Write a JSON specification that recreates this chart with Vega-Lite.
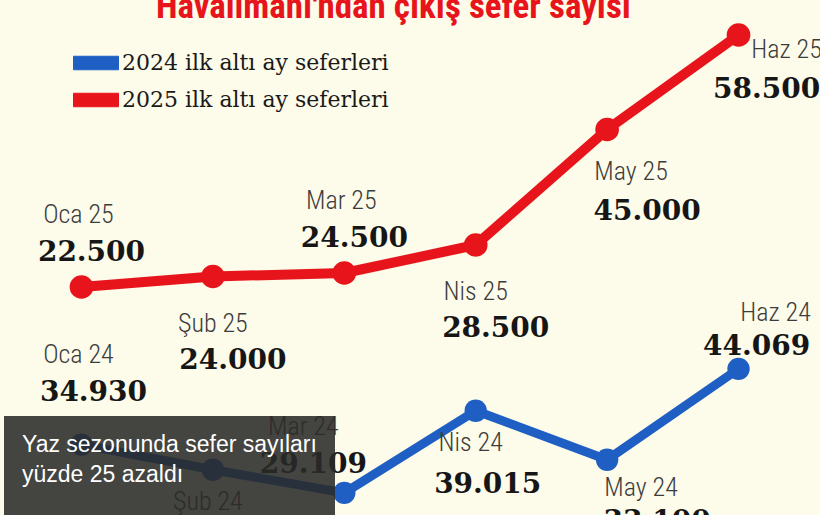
{
  "$schema": "https://vega.github.io/schema/vega-lite/v6.json",
  "width": 820,
  "height": 515,
  "autosize": {"type": "none"},
  "padding": 0,
  "background": "#fdfbe9",
  "config": {
    "view": {"stroke": null},
    "locale": {"number": {"decimal": ",", "thousands": ".", "grouping": [3], "currency": ["", " TL"]}}
  },
  "data": {
    "values": [
      {"seri": "2025 ilk altı ay seferleri", "ay": "Oca", "etiket": "Oca 25", "sefer": 22500},
      {"seri": "2025 ilk altı ay seferleri", "ay": "Şub", "etiket": "Şub 25", "sefer": 24000},
      {"seri": "2025 ilk altı ay seferleri", "ay": "Mar", "etiket": "Mar 25", "sefer": 24500},
      {"seri": "2025 ilk altı ay seferleri", "ay": "Nis", "etiket": "Nis 25", "sefer": 28500},
      {"seri": "2025 ilk altı ay seferleri", "ay": "May", "etiket": "May 25", "sefer": 45000},
      {"seri": "2025 ilk altı ay seferleri", "ay": "Haz", "etiket": "Haz 25", "sefer": 58500},
      {"seri": "2024 ilk altı ay seferleri", "ay": "Oca", "etiket": "Oca 24", "sefer": 34930},
      {"seri": "2024 ilk altı ay seferleri", "ay": "Şub", "etiket": "Şub 24", "sefer": 31900},
      {"seri": "2024 ilk altı ay seferleri", "ay": "Mar", "etiket": "Mar 24", "sefer": 29109},
      {"seri": "2024 ilk altı ay seferleri", "ay": "Nis", "etiket": "Nis 24", "sefer": 39015},
      {"seri": "2024 ilk altı ay seferleri", "ay": "May", "etiket": "May 24", "sefer": 33100},
      {"seri": "2024 ilk altı ay seferleri", "ay": "Haz", "etiket": "Haz 24", "sefer": 44069}
    ]
  },
  "encoding": {
    "x": {"field": "ay", "type": "ordinal", "sort": ["Oca", "Şub", "Mar", "Nis", "May", "Haz"], "scale": {"type": "point", "padding": 0.62}, "axis": null}
  },
  "layer": [
    {
      "transform": [{"filter": "datum.seri === '2025 ilk altı ay seferleri'"}],
      "encoding": {
        "y": {"field": "sefer", "type": "quantitative", "scale": {"domain": [-10071, 63500], "nice": false, "zero": false}, "axis": null}
      },
      "layer": [
        {
          "mark": {"type": "line", "strokeWidth": 10, "strokeCap": "round", "strokeJoin": "round"},
          "encoding": {
            "color": {
              "field": "seri", "type": "nominal",
              "scale": {"domain": ["2024 ilk altı ay seferleri", "2025 ilk altı ay seferleri"], "range": ["#1f5fc4", "#e8141c"]},
              "legend": {
                "orient": "none", "legendX": 73, "legendY": 40, "title": null, "direction": "vertical",
                "symbolType": "M-1,-0.3H1V0.3H-1Z", "symbolSize": 2025, "symbolStrokeWidth": 1, "symbolOpacity": 1,
                "labelFont": "DejaVu Serif", "labelFontSize": 22, "labelColor": "#1a1a1a", "labelOffset": 3,
                "rowPadding": 3, "padding": 0, "labelLimit": 400
              }
            }
          }
        },
        {
          "mark": {"type": "point", "filled": true, "size": 560, "opacity": 1},
          "encoding": {
            "color": {
              "field": "seri", "type": "nominal",
              "scale": {"domain": ["2024 ilk altı ay seferleri", "2025 ilk altı ay seferleri"], "range": ["#1f5fc4", "#e8141c"]},
              "legend": {
                "orient": "none", "legendX": 73, "legendY": 40, "title": null, "direction": "vertical",
                "symbolType": "M-1,-0.3H1V0.3H-1Z", "symbolSize": 2025, "symbolStrokeWidth": 1, "symbolOpacity": 1,
                "labelFont": "DejaVu Serif", "labelFontSize": 22, "labelColor": "#1a1a1a", "labelOffset": 3,
                "rowPadding": 3, "padding": 0, "labelLimit": 400
              }
            },
            "opacity": {
              "datum": "baslik", "type": "ordinal",
              "scale": {"domain": ["baslik"], "range": [1]},
              "legend": {
                "orient": "none", "legendX": 156, "legendY": -10,
                "title": "Havalimanı'ndan çıkış sefer sayısı",
                "titleFont": "Roboto Condensed, Liberation Sans Narrow, DejaVu Sans Condensed, sans-serif",
                "titleFontSize": 35, "titleFontWeight": "bold", "titleColor": "#e8141c", "titleLimit": 800,
                "padding": 0, "labelExpr": "''", "symbolOpacity": 0, "symbolStrokeWidth": 0, "symbolSize": 0,
                "symbolFillColor": "transparent", "symbolStrokeColor": "transparent"
              }
            }
          }
        },
        {
          "transform": [{"filter": {"field": "etiket", "oneOf": ["Oca 25", "Mar 25"]}}],
          "layer": [
            {"mark": {"type": "text", "dx": -3, "dy": -72, "font": "Roboto Condensed, Liberation Sans Narrow, DejaVu Sans Condensed, sans-serif", "fontSize": 26, "fontWeight": 300, "color": "#3c3c3c"}, "encoding": {"text": {"field": "etiket"}}},
            {"mark": {"type": "text", "dx": 10, "dy": -34, "font": "DejaVu Serif", "fontSize": 28, "fontWeight": "bold", "color": "#161616"}, "encoding": {"text": {"field": "sefer", "type": "quantitative", "format": ",.0f"}}}
          ]
        },
        {
          "transform": [{"filter": {"field": "etiket", "oneOf": ["Şub 25", "Nis 25"]}}],
          "layer": [
            {"mark": {"type": "text", "dx": 0, "dy": 47, "font": "Roboto Condensed, Liberation Sans Narrow, DejaVu Sans Condensed, sans-serif", "fontSize": 26, "fontWeight": 300, "color": "#3c3c3c"}, "encoding": {"text": {"field": "etiket"}}},
            {"mark": {"type": "text", "dx": 20, "dy": 84, "font": "DejaVu Serif", "fontSize": 28, "fontWeight": "bold", "color": "#161616"}, "encoding": {"text": {"field": "sefer", "type": "quantitative", "format": ",.0f"}}}
          ]
        },
        {
          "transform": [{"filter": {"field": "etiket", "oneOf": ["May 25"]}}],
          "layer": [
            {"mark": {"type": "text", "dx": 24, "dy": 42, "font": "Roboto Condensed, Liberation Sans Narrow, DejaVu Sans Condensed, sans-serif", "fontSize": 26, "fontWeight": 300, "color": "#3c3c3c"}, "encoding": {"text": {"field": "etiket"}}},
            {"mark": {"type": "text", "dx": 40, "dy": 82, "font": "DejaVu Serif", "fontSize": 28, "fontWeight": "bold", "color": "#161616"}, "encoding": {"text": {"field": "sefer", "type": "quantitative", "format": ",.0f"}}}
          ]
        },
        {
          "transform": [{"filter": {"field": "etiket", "oneOf": ["Haz 25"]}}],
          "layer": [
            {"mark": {"type": "text", "dx": 48, "dy": 15, "font": "Roboto Condensed, Liberation Sans Narrow, DejaVu Sans Condensed, sans-serif", "fontSize": 26, "fontWeight": 300, "color": "#3c3c3c"}, "encoding": {"text": {"field": "etiket"}}},
            {"mark": {"type": "text", "dx": 28, "dy": 55, "font": "DejaVu Serif", "fontSize": 28, "fontWeight": "bold", "color": "#161616"}, "encoding": {"text": {"field": "sefer", "type": "quantitative", "format": ",.0f"}}}
          ]
        }
      ]
    },
    {
      "transform": [{"filter": "datum.seri === '2024 ilk altı ay seferleri'"}],
      "encoding": {
        "y": {"field": "sefer", "type": "quantitative", "scale": {"domain": [26440, 88560], "nice": false, "zero": false}, "axis": null}
      },
      "layer": [
        {
          "mark": {"type": "line", "strokeWidth": 9, "strokeCap": "round", "strokeJoin": "round"},
          "encoding": {
            "color": {
              "field": "seri", "type": "nominal",
              "scale": {"domain": ["2024 ilk altı ay seferleri", "2025 ilk altı ay seferleri"], "range": ["#1f5fc4", "#e8141c"]},
              "legend": {
                "orient": "none", "legendX": 73, "legendY": 40, "title": null, "direction": "vertical",
                "symbolType": "M-1,-0.3H1V0.3H-1Z", "symbolSize": 2025, "symbolStrokeWidth": 1, "symbolOpacity": 1,
                "labelFont": "DejaVu Serif", "labelFontSize": 22, "labelColor": "#1a1a1a", "labelOffset": 3,
                "rowPadding": 3, "padding": 0, "labelLimit": 400
              }
            }
          }
        },
        {
          "mark": {"type": "point", "filled": true, "size": 500, "opacity": 1},
          "encoding": {
            "color": {
              "field": "seri", "type": "nominal",
              "scale": {"domain": ["2024 ilk altı ay seferleri", "2025 ilk altı ay seferleri"], "range": ["#1f5fc4", "#e8141c"]},
              "legend": {
                "orient": "none", "legendX": 73, "legendY": 40, "title": null, "direction": "vertical",
                "symbolType": "M-1,-0.3H1V0.3H-1Z", "symbolSize": 2025, "symbolStrokeWidth": 1, "symbolOpacity": 1,
                "labelFont": "DejaVu Serif", "labelFontSize": 22, "labelColor": "#1a1a1a", "labelOffset": 3,
                "rowPadding": 3, "padding": 0, "labelLimit": 400
              }
            },
            "shape": {
              "datum": "not",
              "scale": {"domain": ["not"], "range": ["circle"]},
              "legend": {
                "orient": "none", "legendX": 4, "legendY": 416,
                "title": ["Yaz sezonunda sefer sayıları", "yüzde 25 azaldı"],
                "titleFont": "Liberation Sans", "titleFontSize": 23, "titleFontWeight": "normal", "titleColor": "#ffffff",
                "titleLineHeight": 30, "titleLimit": 500, "titlePadding": 10,
                "fillColor": "rgba(42,42,40,0.88)", "padding": 18,
                "labelExpr": "''", "symbolOpacity": 0, "symbolStrokeWidth": 0, "symbolSize": 400
              }
            }
          }
        },
        {
          "transform": [{"filter": {"field": "etiket", "oneOf": ["Oca 24"]}}],
          "layer": [
            {"mark": {"type": "text", "dx": -3, "dy": -90, "font": "Roboto Condensed, Liberation Sans Narrow, DejaVu Sans Condensed, sans-serif", "fontSize": 26, "fontWeight": 300, "color": "#3c3c3c"}, "encoding": {"text": {"field": "etiket"}}},
            {"mark": {"type": "text", "dx": 12, "dy": -52, "font": "DejaVu Serif", "fontSize": 28, "fontWeight": "bold", "color": "#161616"}, "encoding": {"text": {"field": "sefer", "type": "quantitative", "format": ",.0f"}}}
          ]
        },
        {
          "transform": [{"filter": {"field": "etiket", "oneOf": ["Mar 24"]}}],
          "layer": [
            {"mark": {"type": "text", "dx": -41, "dy": -66, "font": "Roboto Condensed, Liberation Sans Narrow, DejaVu Sans Condensed, sans-serif", "fontSize": 26, "fontWeight": 300, "color": "#3c3c3c"}, "encoding": {"text": {"field": "etiket"}}},
            {"mark": {"type": "text", "dx": -31, "dy": -28, "font": "DejaVu Serif", "fontSize": 28, "fontWeight": "bold", "color": "#161616"}, "encoding": {"text": {"field": "sefer", "type": "quantitative", "format": ",.0f"}}}
          ]
        },
        {
          "transform": [{"filter": {"field": "etiket", "oneOf": ["Haz 24"]}}],
          "layer": [
            {"mark": {"type": "text", "dx": 37, "dy": -56, "font": "Roboto Condensed, Liberation Sans Narrow, DejaVu Sans Condensed, sans-serif", "fontSize": 26, "fontWeight": 300, "color": "#3c3c3c"}, "encoding": {"text": {"field": "etiket"}}},
            {"mark": {"type": "text", "dx": 18, "dy": -22, "font": "DejaVu Serif", "fontSize": 28, "fontWeight": "bold", "color": "#161616"}, "encoding": {"text": {"field": "sefer", "type": "quantitative", "format": ",.0f"}}}
          ]
        },
        {
          "transform": [{"filter": {"field": "etiket", "oneOf": ["Şub 24", "Nis 24"]}}],
          "layer": [
            {"mark": {"type": "text", "dx": -5, "dy": 32, "font": "Roboto Condensed, Liberation Sans Narrow, DejaVu Sans Condensed, sans-serif", "fontSize": 26, "fontWeight": 300, "color": "#3c3c3c"}, "encoding": {"text": {"field": "etiket"}}},
            {"mark": {"type": "text", "dx": 12, "dy": 74, "font": "DejaVu Serif", "fontSize": 28, "fontWeight": "bold", "color": "#161616"}, "encoding": {"text": {"field": "sefer", "type": "quantitative", "format": ",.0f"}}}
          ]
        },
        {
          "transform": [{"filter": {"field": "etiket", "oneOf": ["May 24"]}}],
          "layer": [
            {"mark": {"type": "text", "dx": 34, "dy": 28, "font": "Roboto Condensed, Liberation Sans Narrow, DejaVu Sans Condensed, sans-serif", "fontSize": 26, "fontWeight": 300, "color": "#3c3c3c"}, "encoding": {"text": {"field": "etiket"}}},
            {"mark": {"type": "text", "dx": 50, "dy": 62, "font": "DejaVu Serif", "fontSize": 28, "fontWeight": "bold", "color": "#161616"}, "encoding": {"text": {"field": "sefer", "type": "quantitative", "format": ",.0f"}}}
          ]
        }
      ]
    }
  ],
  "resolve": {"scale": {"y": "independent"}}
}
